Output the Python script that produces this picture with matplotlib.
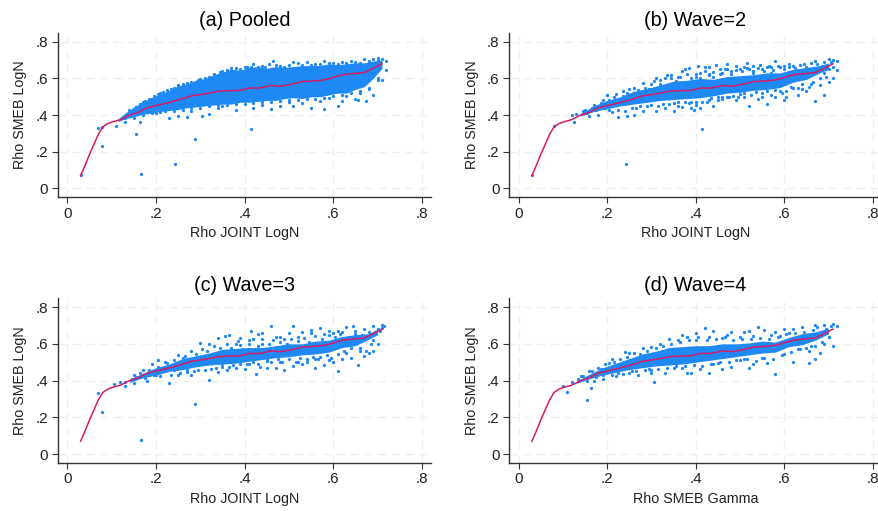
# -*- coding: utf-8 -*-
import matplotlib
matplotlib.use('Agg')
import matplotlib.pyplot as plt

plt.rcParams['font.family'] = ['Liberation Sans', 'DejaVu Sans']

BLUE = '#1E88F5'
RED = '#D81B60'
W, H = 879, 511

titles = ['(a) Pooled', '(b) Wave=2', '(c) Wave=3', '(d) Wave=4']
xlabels = ['Rho JOINT LogN', 'Rho JOINT LogN', 'Rho JOINT LogN', 'Rho SMEB Gamma']
ylabel = 'Rho SMEB LogN'
ticks = [0, .2, .4, .6, .8]
ticklabels = ['0', '.2', '.4', '.6', '.8']

# smoothed line, same in every panel
fit_x = [.03, .04, .05, .06, .07, .08, .09, .10, .12, .14, .16, .18, .20, .22, .25, .28, .30, .32,
         .34, .36, .39, .41, .43, .44, .46, .48, .51, .53, .55, .58, .60, .62, .64, .67, .69, .71]
fit_y = [.07, .125, .185, .24, .295, .335, .352, .362, .375, .40, .415, .44, .452, .463, .482, .505,
         .512, .52, .53, .533, .535, .548, .547, .55, .562, .557, .57, .583, .585, .592, .605, .62,
         .625, .632, .655, .68]

# dense part of each cloud
band_x_a = [.115, .13, .15, .17, .19, .21, .23, .25, .27, .29, .31, .33, .35, .37, .39, .41, .43, .45, .47,
            .49, .51, .53, .55, .57, .59, .61, .63, .65, .67, .69, .71]
band_hi_a = [.38, .41, .445, .47, .495, .515, .535, .56, .57, .59, .60, .62, .635, .65, .645, .66, .665, .655,
             .665, .66, .665, .67, .67, .67, .68, .675, .68, .685, .685, .695, .70]
band_lo_a = [.365, .38, .39, .405, .41, .42, .425, .43, .44, .445, .45, .455, .46, .46, .47, .47, .475, .48,
             .48, .49, .495, .49, .50, .50, .51, .52, .52, .54, .555, .60, .655]

band_x_b = [.14, .17, .20, .23, .26, .29, .32, .35, .38, .41, .44, .47, .50, .53, .56, .59, .62, .65, .68, .70]
band_hi_b = [.41, .45, .48, .50, .53, .545, .565, .585, .59, .60, .595, .61, .615, .62, .63, .63, .65, .66, .67, .685]
band_lo_b = [.395, .42, .435, .45, .46, .47, .48, .485, .49, .495, .505, .52, .525, .535, .54, .55, .58, .595, .63, .65]

band_x_c = [.14, .17, .20, .23, .26, .29, .32, .35, .38, .41, .44, .47, .50, .53, .56, .59, .62, .65, .68, .70]
band_hi_c = [.405, .44, .47, .49, .52, .535, .55, .57, .575, .58, .58, .59, .60, .60, .615, .62, .64, .65, .655, .68]
band_lo_c = [.39, .415, .43, .45, .46, .475, .485, .49, .495, .505, .515, .525, .53, .54, .545, .555, .58, .59, .625, .65]

band_x_d = [.13, .16, .19, .22, .25, .28, .31, .34, .37, .40, .43, .46, .49, .52, .55, .58, .61, .64, .67, .70]
band_hi_d = [.395, .435, .47, .495, .52, .545, .56, .58, .585, .59, .59, .60, .60, .605, .615, .61, .635, .655, .665, .685]
band_lo_d = [.385, .41, .43, .445, .46, .47, .48, .485, .49, .50, .51, .52, .53, .54, .55, .555, .585, .595, .62, .655]

# single points read around each cloud
pts_x_a = [.031, .07, .078, .078, .154, .163, .167, .242, .289, .415, .11,
           .13, .17, .19, .21, .235, .25, .27, .29, .30, .32, .345, .36, .38, .395, .405, .42, .44, .455, .465,
           .48, .51, .52, .54, .56, .58, .60, .62, .64, .67, .69, .70, .71, .72,
           .13, .20, .23, .25, .27, .305, .32, .34, .38, .42, .46, .48, .51, .55, .58, .61, .62, .65, .655,
           .675, .69, .70, .72, .71, .68, .66, .28, .35, .44, .53, .57, .63, .50, .59]
pts_y_a = [.073, .331, .336, .231, .296, .36, .076, .135, .271, .324, .34,
           .385, .47, .49, .52, .54, .565, .575, .58, .595, .61, .635, .645, .655, .635, .665, .68, .67, .68, .695,
           .67, .69, .685, .69, .68, .695, .685, .69, .695, .705, .705, .71, .705, .695,
           .36, .41, .385, .395, .39, .395, .405, .44, .43, .44, .435, .45, .45, .44, .435, .452, .475, .49, .48,
           .475, .51, .59, .645, .59, .545, .52, .425, .45, .455, .465, .475, .505, .47, .495]
more_a = [(.14, .43), (.155, .445), (.165, .46), (.175, .475), (.185, .49), (.195, .505), (.205, .515), (.215, .525),
          (.225, .535), (.24, .55), (.26, .57), (.28, .58), (.295, .59), (.31, .605), (.33, .625), (.35, .64),
          (.37, .655), (.39, .65), (.40, .66), (.415, .665), (.43, .665), (.445, .66), (.47, .675), (.49, .665),
          (.50, .675), (.53, .675), (.55, .675), (.57, .68), (.59, .685), (.61, .68), (.63, .685), (.65, .69),
          (.66, .685), (.68, .695), (.70, .70), (.15, .385), (.17, .40), (.19, .41), (.21, .415), (.22, .42),
          (.24, .425), (.26, .43), (.28, .44), (.30, .44), (.32, .45), (.34, .455), (.36, .455), (.38, .46),
          (.40, .46), (.42, .465), (.44, .47), (.46, .47), (.48, .475), (.50, .485), (.52, .48), (.54, .49),
          (.56, .49), (.58, .495), (.60, .505), (.62, .51), (.64, .52), (.66, .53), (.68, .55), (.70, .60)]

pts_x_b = [.031, .08, .243, .415, .12, .13, .15, .17, .19, .20, .215, .235, .25, .27, .28, .30, .31, .32, .335, .345,
           .36, .37, .375, .385, .40, .405, .42, .43, .445, .455, .47, .49, .51, .515, .53, .545, .56, .58, .60, .62,
           .645, .67, .69, .70, .71, .72, .40, .41, .44, .46, .48, .50, .52, .55, .57, .59, .61,
           .125, .16, .18, .21, .225, .245, .26, .28, .31, .33, .35, .37, .39, .395, .41, .44, .46, .49, .52, .54, .56,
           .58, .60, .605, .63, .65, .67, .69, .70, .71, .72, .68, .695, .40, .43, .47, .51, .55, .59, .62, .66,
           .43, .47, .53, .57, .36, .39, .45, .50, .64]
pts_y_b = [.073, .34, .135, .324, .40, .405, .43, .455, .48, .51, .50, .53, .54, .535, .575, .57, .60, .59, .62, .62,
           .61, .64, .65, .655, .625, .67, .665, .66, .675, .65, .68, .67, .66, .685, .67, .675, .66, .695, .67, .67,
           .68, .695, .69, .705, .70, .695, .61, .63, .635, .63, .64, .65, .65, .65, .66, .665, .66,
           .365, .395, .40, .415, .39, .395, .40, .42, .425, .44, .42, .445, .44, .43, .44, .45, .49, .48, .45, .49, .46,
           .50, .48, .50, .51, .53, .475, .51, .58, .60, .645, .565, .61, .47, .48, .50, .50, .52, .53, .55, .57,
           .62, .65, .64, .63, .47, .47, .50, .515, .545]
more_b = [(.145, .425), (.155, .41), (.165, .44), (.175, .43), (.185, .465), (.195, .44), (.205, .485), (.205, .43),
          (.22, .515), (.225, .43), (.235, .505), (.24, .425), (.245, .52), (.255, .44), (.26, .55), (.265, .44),
          (.27, .515), (.275, .45), (.285, .55), (.29, .45), (.295, .545), (.30, .455), (.305, .585), (.315, .45),
          (.32, .57), (.325, .46), (.33, .605), (.34, .46), (.345, .60), (.35, .465), (.355, .585), (.36, .45),
          (.365, .61), (.375, .47), (.38, .625), (.385, .465), (.39, .605), (.40, .455), (.41, .605), (.415, .47),
          (.42, .64), (.425, .47), (.43, .625), (.435, .495), (.44, .61), (.45, .48), (.455, .625), (.46, .50),
          (.465, .65), (.475, .50), (.48, .625), (.485, .505), (.49, .645), (.495, .50), (.505, .64), (.51, .52),
          (.515, .655), (.525, .51), (.53, .63), (.535, .525), (.54, .655), (.55, .50), (.555, .64), (.56, .53),
          (.565, .67), (.57, .51), (.575, .645), (.58, .535), (.585, .67), (.595, .52), (.60, .65), (.605, .53),
          (.61, .68), (.615, .555), (.625, .655), (.63, .55), (.635, .675), (.64, .57), (.65, .665), (.655, .555),
          (.66, .685), (.665, .58), (.675, .68), (.68, .60), (.685, .67), (.69, .63), (.70, .65), (.705, .69), (.71, .66)]

pts_x_c = [.07, .078, .167, .289, .105, .12, .13, .15, .17, .19, .205, .22, .25, .26, .28, .30, .32, .34, .355, .365,
           .38, .39, .41, .415, .43, .44, .46, .48, .51, .50, .53, .55, .57, .59, .61, .63, .645, .67, .69, .70, .71, .715,
           .39, .42, .44, .47, .49, .52, .55, .58, .60, .62, .65,
           .13, .15, .18, .2, .23, .25, .28, .32, .34, .36, .38, .40, .425, .45, .47, .49, .51, .53, .56, .58,
           .61, .60, .62, .64, .655, .67, .68, .69, .70, .35, .43, .48, .52, .56, .59, .63, .66, .41, .45, .54, .57, .24, .27]
pts_y_c = [.33, .23, .076, .27, .38, .395, .395, .43, .46, .49, .51, .50, .54, .525, .56, .605, .60, .63, .645, .65,
           .60, .63, .62, .67, .655, .66, .695, .64, .695, .66, .665, .675, .685, .67, .67, .69, .695, .68, .695, .68, .705, .695,
           .595, .625, .60, .64, .625, .64, .66, .655, .66, .665, .67,
           .37, .385, .40, .43, .385, .43, .43, .405, .445, .46, .47, .465, .435, .47, .47, .46, .48, .49, .47, .485,
           .452, .50, .515, .525, .485, .535, .55, .56, .60, .475, .49, .50, .50, .52, .51, .55, .56, .49, .505, .52, .53, .46, .455]
more_c = [(.145, .41), (.155, .42), (.165, .44), (.175, .415), (.185, .455), (.195, .43), (.205, .475), (.21, .425),
          (.225, .495), (.235, .43), (.24, .51), (.255, .44), (.265, .535), (.27, .445), (.275, .51), (.285, .45),
          (.29, .545), (.295, .455), (.305, .57), (.31, .46), (.315, .56), (.325, .465), (.33, .59), (.335, .47),
          (.345, .575), (.35, .49), (.36, .60), (.365, .475), (.37, .58), (.375, .485), (.385, .615), (.39, .49),
          (.395, .57), (.405, .49), (.41, .60), (.42, .50), (.43, .59), (.435, .475), (.44, .625), (.45, .52),
          (.455, .60), (.46, .50), (.465, .62), (.475, .515), (.48, .61), (.485, .50), (.495, .60), (.50, .52),
          (.505, .625), (.515, .50), (.52, .615), (.525, .525), (.535, .63), (.54, .50), (.545, .61), (.555, .53),
          (.56, .645), (.565, .515), (.575, .625), (.585, .54), (.59, .65), (.595, .525), (.605, .635), (.61, .545),
          (.615, .655), (.625, .56), (.635, .64), (.64, .575), (.65, .655), (.66, .58), (.665, .65), (.675, .56),
          (.68, .665), (.685, .60), (.69, .62), (.695, .665), (.705, .67), (.71, .685)]

pts_x_d = [.11, .155, .163, .305, .58, .10, .12, .14, .16, .18, .195, .21, .24, .25, .28, .30, .32, .34, .36, .37, .38, .40,
           .42, .44, .47, .48, .51, .52, .54, .555, .58, .60, .62, .64, .67, .69, .71, .72, .40, .43, .46, .50, .53, .57, .59, .61,
           .17, .19, .22, .25, .27, .30, .33, .38, .39, .43, .46, .48, .52, .53, .56, .62, .655, .655, .67, .68, .71, .70, .69,
           .35, .41, .45, .50, .55, .60, .63, .66, .30, .37, .44, .51]
pts_y_d = [.34, .296, .36, .395, .435, .37, .39, .425, .45, .47, .49, .52, .555, .55, .575, .585, .60, .625, .62, .65, .64, .66,
           .685, .67, .65, .665, .665, .67, .69, .675, .665, .68, .68, .69, .705, .70, .71, .695, .62, .64, .63, .635, .645, .65, .645, .66,
           .40, .41, .425, .44, .43, .44, .44, .44, .44, .44, .465, .475, .47, .49, .495, .50, .495, .56, .515, .55, .59, .64, .60,
           .47, .465, .495, .51, .525, .545, .57, .59, .46, .47, .49, .515]
more_d = [(.135, .41), (.145, .425), (.155, .40), (.165, .45), (.175, .42), (.185, .465), (.19, .43), (.205, .495),
          (.21, .43), (.215, .50), (.225, .44), (.23, .52), (.235, .435), (.245, .53), (.255, .45), (.26, .55),
          (.265, .45), (.275, .545), (.285, .455), (.29, .56), (.295, .465), (.31, .575), (.315, .465), (.325, .59),
          (.335, .47), (.345, .60), (.355, .48), (.365, .61), (.375, .48), (.385, .62), (.395, .485), (.405, .64),
          (.415, .48), (.425, .62), (.435, .49), (.445, .625), (.455, .50), (.465, .64), (.475, .50), (.485, .62),
          (.49, .51), (.505, .625), (.515, .52), (.525, .625), (.535, .505), (.545, .63), (.555, .525), (.565, .625),
          (.575, .52), (.585, .64), (.595, .54), (.605, .655), (.615, .555), (.625, .66), (.635, .57), (.645, .665),
          (.65, .58), (.665, .675), (.67, .59), (.675, .69), (.685, .61), (.695, .68), (.70, .635), (.705, .695)]

bands = [(band_x_a, band_lo_a, band_hi_a), (band_x_b, band_lo_b, band_hi_b),
         (band_x_c, band_lo_c, band_hi_c), (band_x_d, band_lo_d, band_hi_d)]
points = [(pts_x_a, pts_y_a), (pts_x_b, pts_y_b), (pts_x_c, pts_y_c), (pts_x_d, pts_y_d)]
extras = [more_a, more_b, more_c, more_d]

# axes boxes in pixels: left, right, top, bottom
boxes = [(58, 430.7, 33, 197), (509.3, 881.7, 33, 197),
         (58, 430.7, 298.3, 462.7), (509.3, 881.7, 298.3, 462.7)]

fig = plt.figure(figsize=(W / 100, H / 100), dpi=100, facecolor='white')

for i in range(4):
    l, r, t, b = boxes[i]
    ax = fig.add_axes([l / W, 1 - b / H, (r - l) / W, (b - t) / H])
    ax.set_xlim(-.021, .82)
    ax.set_ylim(-.047, .848)
    ax.grid(True, color='#EFEFEF', lw=1.0, ls=(0, (6, 4)))
    ax.set_axisbelow(True)

    bx, lo, hi = bands[i]
    ax.fill_between(bx, lo, hi, color=BLUE, lw=0, zorder=2)
    ax.scatter(points[i][0], points[i][1], s=5.5, color=BLUE, linewidths=0, zorder=3)
    ax.scatter([p[0] for p in extras[i]], [p[1] for p in extras[i]], s=5.5, color=BLUE, linewidths=0, zorder=3)
    ax.plot(fit_x, fit_y, color=RED, lw=1.1, zorder=4)

    ax.set_xticks(ticks, ticklabels)
    ax.set_yticks(ticks, ticklabels)
    ax.tick_params(labelsize=11, length=4, width=0.8, color='#333333', labelcolor='#222222', pad=3)
    for side in ['top', 'right']:
        ax.spines[side].set_visible(False)
    for side in ['left', 'bottom']:
        ax.spines[side].set_color('#333333')
        ax.spines[side].set_linewidth(1.0)

    ax.set_xlabel(xlabels[i], fontsize=10.3, color='#222222', labelpad=4)
    ax.set_ylabel(ylabel, fontsize=10.3, color='#222222', labelpad=6)
    ax.set_title(titles[i], fontsize=14.2, color='black', pad=5)

fig.savefig('out.png', dpi=100)
